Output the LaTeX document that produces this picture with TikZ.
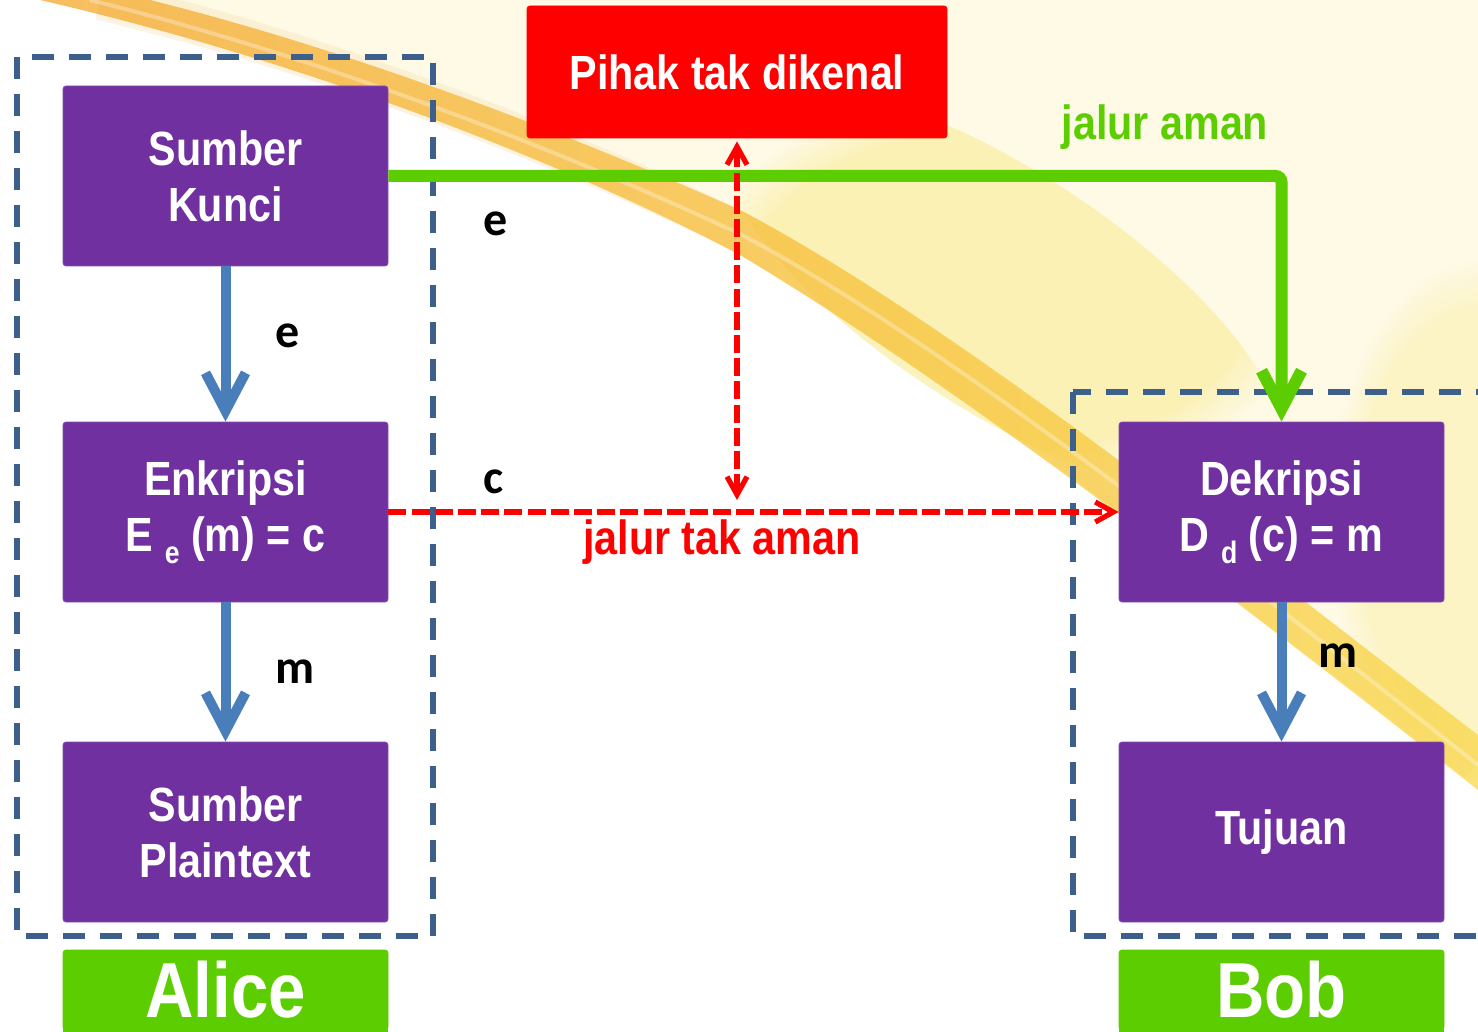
\documentclass[tikz,border=0pt]{standalone}
\usepackage{fontspec}
\setmainfont{Liberation Sans}[FakeStretch=0.86]
\newfontfamily\lblfont{Carlito}
\usetikzlibrary{arrows.meta,fadings}

\definecolor{boxpurple}{HTML}{7030A0}
\definecolor{namegreen}{HTML}{5BCD00}
\definecolor{flowblue}{HTML}{4A7EBB}
\definecolor{frameblue}{HTML}{3C5F8C}
\definecolor{alertred}{HTML}{FF0000}
\definecolor{cream}{HTML}{FEFAE6}
\definecolor{bandorange}{HTML}{F4A21C}
\definecolor{bandyellow}{HTML}{F8D63C}
\definecolor{glowyellow}{HTML}{F9EB94}

\newcommand\boxfont{\fontsize{24}{28}\selectfont\bfseries}
\newcommand\subidx[1]{\raisebox{-6pt}{\fontsize{15.5}{15.5}\selectfont #1}}

\tikzset{
  procbox/.style={fill=boxpurple, draw=boxpurple!85!white, line width=0.4pt,
    rounded corners=1.5pt, minimum width=162.5pt, minimum height=90pt,
    inner sep=0pt, text=white, align=center, font=\boxfont},
  alertbox/.style={procbox, fill=alertred, draw=alertred,
    minimum width=210pt, minimum height=66pt},
  namebox/.style={procbox, fill=namegreen, draw=namegreen, minimum height=40pt,
    font=\fontsize{39}{39}\selectfont\bfseries},
  groupframe/.style={draw=frameblue, line width=2.6pt, dash pattern=on 11pt off 7.5pt},
  lbl/.style={font=\lblfont\fontsize{24}{24}\selectfont\bfseries, text=black, inner sep=0pt},
  pathlbl/.style={font=\fontsize{24}{24}\selectfont\bfseries, inner sep=0pt},
  flowarrow/.style={draw=flowblue, line width=5pt,
    -{Straight Barb[length=19pt,width=20pt]}},
  securearrow/.style={draw=namegreen, line width=6pt, rounded corners=3pt,
    -{Straight Barb[length=19pt,width=20pt]}},
  insecure/.style={draw=alertred, line width=2.6pt, dash pattern=on 9pt off 2.6pt}
}

\begin{document}
\begin{tikzpicture}[x=0.5pt,y=-0.5pt]
  \useasboundingbox (0,0) rectangle (1478,1032);
  \clip (0,0) rectangle (1478,1032);

  % --- backdrop: cream sky, warm glow and the orange-to-yellow swoosh ---
  \fill[white] (0,0) rectangle (1478,1032);
  \fill[cream] (150,0) .. controls (350,50) and (560,130) .. (740,210)
     .. controls (950,320) and (1250,560) .. (1478,735) -- (1478,0) -- cycle;
  \fill[glowyellow, opacity=0.6, path fading=circle with fuzzy edge 20 percent,
        rotate around={-33:(1000,290)}] (1000,290) ellipse [x radius=330, y radius=120];
  \fill[glowyellow, opacity=0.4, path fading=circle with fuzzy edge 20 percent]
        (1478,520) ellipse [x radius=150, y radius=260];
  \draw[bandorange!35, line width=20pt, opacity=0.35, line join=round]
     (100,0) .. controls (330,55) and (560,145) .. (740,232)
     .. controls (950,350) and (1250,585) .. (1478,762);
  \shade[left color=bandorange, right color=bandyellow, opacity=0.7]
     (150,0) .. controls (350,50) and (560,130) .. (740,210)
     .. controls (950,320) and (1250,560) .. (1478,735)
     -- (1478,790) .. controls (1250,610) and (950,380) .. (740,255)
     .. controls (560,160) and (300,60) .. (40,0) -- cycle;
  \draw[white, line width=2pt, opacity=0.3]
     (90,0) .. controls (330,60) and (560,150) .. (740,234)
     .. controls (950,345) and (1250,585) .. (1478,765);

  % --- dashed frames around each party ---
  \draw[groupframe] (17,57) rectangle (433,936);
  \draw[groupframe] (1073,392) rectangle (1500,936);

  % --- Alice's side ---
  \node[procbox] (kunci) at (225.5,176) {Sumber\\Kunci};
  \node[procbox] (enk)   at (225.5,512) {Enkripsi\\E \subidx{e} (m) = c};
  \node[procbox] (plain) at (225.5,832) {Sumber\\Plaintext};
  \node[namebox] (alice) at (225.5,990) {Alice};

  % --- eavesdropper ---
  \node[alertbox] (pihak) at (737,72) {Pihak tak dikenal};

  % --- Bob's side ---
  \node[procbox] (dek) at (1281.5,512) {Dekripsi\\D \subidx{d} (c) = m};
  \node[procbox] (tuj) at (1281.5,832) {Tujuan};
  \node[namebox] (bob) at (1281.5,990) {Bob};

  % name tags run on past the lower edge of the page
  \fill[namegreen] ([yshift=2pt]alice.south west) rectangle ([yshift=-4pt]alice.south east);
  \fill[namegreen] ([yshift=2pt]bob.south west) rectangle ([yshift=-4pt]bob.south east);

  % --- connectors ---
  \draw[flowarrow] (kunci.south) -- (enk.north);
  \draw[flowarrow] (enk.south) -- (plain.north);
  \draw[flowarrow] (dek.south) -- (tuj.north);
  \draw[securearrow] (kunci.east) -| (dek.north);
  \draw[insecure, -{Straight Barb[length=9pt,width=10pt]}] (enk.east) -- (dek.west);
  \coordinate (tap) at (737,500);
  \draw[insecure, {Straight Barb[length=9pt,width=10pt]}-{Straight Barb[length=9pt,width=10pt]}]
     ([yshift=-1.5pt]pihak.south) -- (tap);

  % --- labels ---
  \node[lbl] (le1) at (288,336) {e};
  \node[lbl] (lm1) at (295,672) {m};
  \node[lbl] (le2) at (496,224) {e};
  \node[lbl] (lc)  at (494,482) {c};
  \node[lbl] (lm2) at (1338,656) {m};
  \node[pathlbl, text=namegreen] (aman) at (1165,127) {jalur aman};
  \node[pathlbl, text=alertred] (takaman) at (722,542) {jalur tak aman};
\end{tikzpicture}
\end{document}
